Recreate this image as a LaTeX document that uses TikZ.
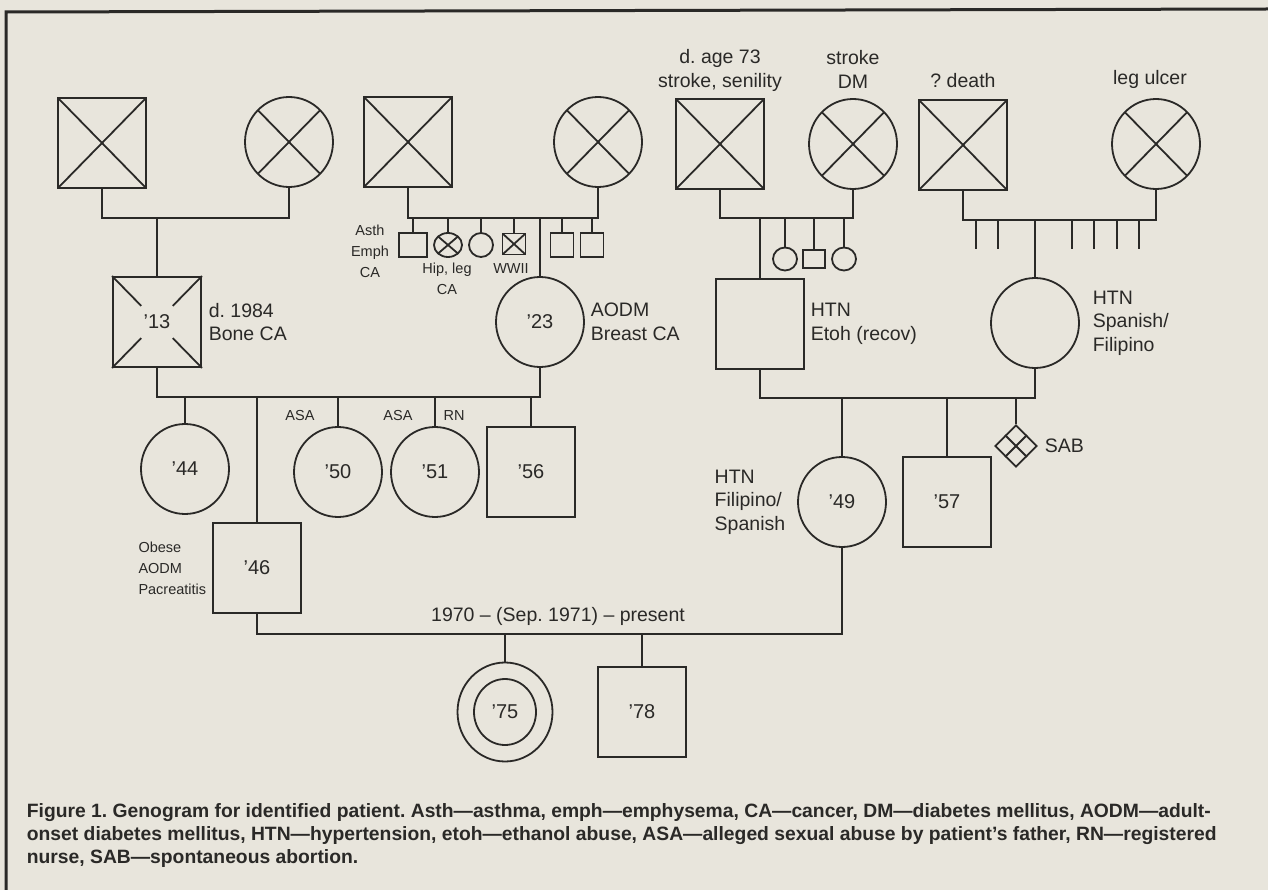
\documentclass[tikz,border=0pt]{standalone}
\usepackage{fontspec}
\setmainfont{Liberation Sans}
\usetikzlibrary{shapes.geometric,calc,positioning}
\definecolor{paper}{HTML}{E8E5DC}
\definecolor{ink}{HTML}{2A2927}
\frenchspacing
\newcommand\yearfont{\fontsize{20}{24}\selectfont}
\newcommand\lblfont{\fontsize{19.5}{23.5}\selectfont}
\newcommand\notefont{\fontsize{14.5}{21}\selectfont}
\newcommand\capfont{\fontsize{19.3}{23}\selectfont\bfseries}
\tikzset{
  male/.style={draw, rectangle, inner sep=0pt, minimum width=88pt, minimum height=90pt, font=\yearfont},
  female/.style={draw, ellipse, inner sep=0pt, minimum width=88pt, minimum height=90pt, font=\yearfont},
  small/.style={minimum width=24pt, minimum height=24pt},
  dead/.style={path picture={
      \draw (path picture bounding box.north west) -- (path picture bounding box.south east)
            (path picture bounding box.south west) -- (path picture bounding box.north east);}},
  lbl/.style={font=\lblfont, align=left, inner sep=0pt},
  note/.style={font=\notefont, align=center, inner sep=0pt},
}
\begin{document}
\begin{tikzpicture}[x=1pt, y=-1pt, line width=1.8pt, color=ink]
\useasboundingbox (0,0) rectangle (1268,890);
\fill[paper] (0,0) rectangle (1268,890);
\draw[line width=3pt] (6,890) -- (6,12) -- (1268,9);

% grandparents
\node[male,dead] (gfA) at (102,143) {};
\node[female,dead] (gmA) at (289,142) {};
\node[male,dead] (gfB) at (408,142) {};
\node[female,dead] (gmB) at (598,142) {};
\node[male,dead] (gfC) at (720,144) {};
\node[female,dead] (gmC) at (853,144) {};
\node[male,dead] (gfD) at (963,145) {};
\node[female,dead] (gmD) at (1156,144) {};

\node[lbl, align=center, above=6pt of gfC] {d. age 73\\stroke, senility};
\node[lbl, align=center, above=9pt of gmC] {stroke\\DM};
\node[lbl, above=11pt of gfD] {? death};
\node[lbl, above=9pt of gmD, xshift=-6pt] {leg ulcer};

% siblings of '23
\node[male, small, minimum width=28pt] (sbA) at (413,245) {};
\node[female, small, minimum width=28pt, dead] (sbB) at (448,245) {};
\node[female, small] (sbC) at (481,245) {};
\node[male, small, dead, minimum width=23pt, minimum height=21pt] (sbD) at (514,244) {};
\node[male, small, minimum width=23pt] (sbE) at (562,245) {};
\node[male, small, minimum width=23pt] (sbF) at (592,245) {};
\node[note] at (370,251) {Asth\\Emph\\CA};
\node[note] at (447,279) {Hip, leg\\CA};
\node[note] at (511,269) {WWII};

% siblings of HTN father
\node[female, small, minimum height=23pt] (scA) at (785,259) {};
\node[male, small, minimum width=22pt, minimum height=18pt] (scB) at (814,259) {};
\node[female, small, minimum height=23pt] (scC) at (844,259) {};

% parents
\node[male] (y13) at (157,322) {'13};
\foreach \c in {north west,north east,south west,south east}
  \draw (y13.\c) -- ($(y13.\c)!0.65!(y13.center)$);
\node[female] (y23) at (540,322) {'23};
\node[male] (htnM) at (760,324) {};
\node[female] (htnF) at (1035,323) {};

\node[lbl, right=6pt of y13] {d. 1984\\Bone CA};
\node[lbl, right=5pt of y23] {AODM\\Breast CA};
\node[lbl, right=5pt of htnM] {HTN\\Etoh (recov)};
\node[lbl, right=12pt of htnF] {HTN\\Spanish/\\Filipino};

\coordinate (mA) at (157,218);
\draw (gfA.south) |- (mA) -| (gmA.south);
\draw (mA) -- (y13.north);
\coordinate (mB) at (540,218);
\draw (gfB.south) |- (mB) -| (gmB.south);
\draw (mB) -- (y23.north);
\foreach \s in {sbA,sbB,sbC,sbD,sbE,sbF}
  \draw (\s.north) -- (\s.north |- mB);
\coordinate (mC) at (760,218);
\draw (gfC.south) |- (mC) -| (gmC.south);
\draw (mC) -- (htnM.north);
\foreach \s in {scA,scB,scC}
  \draw (\s.north) -- (\s.north |- mC);
\coordinate (mD) at (1035,220);
\draw (gfD.south) |- (mD) -| (gmD.south);
\draw (mD) -- (htnF.north);
\foreach \x in {976,998,1072,1094,1117,1139}
  \draw (\x,220) -- (\x,249);

% children
\node[female] (y44) at (185,469) {'44};
\node[male] (y46) at (257,568) {'46};
\node[female] (y50) at (338,472) {'50};
\node[female] (y51) at (435,472) {'51};
\node[male] (y56) at (531,472) {'56};
\node[lbl, font=\notefont, left=5pt of y46] {Obese\\AODM\\Pacreatitis};
\node[note] at (300,416) {ASA};
\node[note] at (398,416) {ASA};
\node[note] at (454,416) {RN};

\node[female] (y49) at (842,502) {'49};
\node[male] (y57) at (947,502) {'57};
\node[draw, diamond, inner sep=0pt, minimum width=42pt, minimum height=42pt] (sab) at (1016,446) {};
\draw ($(sab.north)!0.5!(sab.west)$) -- ($(sab.south)!0.5!(sab.east)$);
\draw ($(sab.north)!0.5!(sab.east)$) -- ($(sab.south)!0.5!(sab.west)$);
\node[lbl, right=6pt of sab] {SAB};
\node[lbl, left=11pt of y49] {HTN\\Filipino/\\Spanish};

\coordinate (mE) at (257,397);
\draw (y13.south) |- (mE) -| (y23.south);
\foreach \c in {y44,y46,y50,y51,y56}
  \draw (\c.north) -- (\c.north |- mE);
\coordinate (mF) at (842,398);
\draw (htnM.south) |- (mF) -| (htnF.south);
\foreach \c in {y49,y57,sab}
  \draw (\c.north) -- (\c.north |- mF);

% patient's marriage
\node[female, minimum width=95pt, minimum height=99pt] (y75o) at (505,712) {};
\node[female, minimum width=62pt, minimum height=66pt] (y75) at (505,712) {'75};
\node[male] (y78) at (642,712) {'78};
\coordinate (mG) at (505,634);
\draw (y46.south) |- (mG) -| (y49.south);
\draw (y75o.north) -- (mG);
\draw (y78.north) -- (y78.north |- mG);
\node[lbl, above=8pt of mG, xshift=53pt] {1970 – (Sep. 1971) – present};

\node[anchor=north west, inner sep=0pt, align=left, font=\capfont] (cap) at (26,803)
  {Figure 1. Genogram for identified patient. Asth—asthma, emph—emphysema, CA—cancer, DM—diabetes mellitus, AODM—adult-\\
   onset diabetes mellitus, HTN—hypertension, etoh—ethanol abuse, ASA—alleged sexual abuse by patient’s father, RN—registered\\
   nurse, SAB—spontaneous abortion.};
\end{tikzpicture}
\end{document}
